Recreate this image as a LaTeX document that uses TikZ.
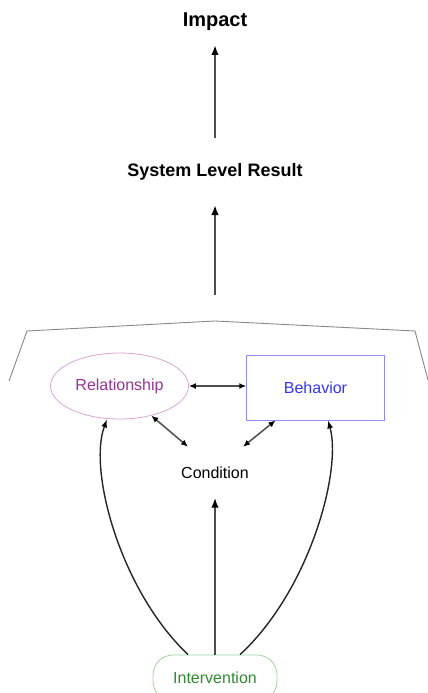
\documentclass[tikz,border=0pt]{standalone}
\usepackage{fontspec}
\setmainfont{Liberation Sans}
\usetikzlibrary{arrows.meta,shapes.geometric}
\definecolor{relborder}{HTML}{D9A3D9}
\definecolor{reltext}{HTML}{993399}
\definecolor{behborder}{HTML}{8C8CFF}
\definecolor{behtext}{HTML}{3333FF}
\definecolor{intborder}{HTML}{A3D1A3}
\definecolor{inttext}{HTML}{2E8B2E}
\definecolor{darkline}{HTML}{4D4D4D}
\definecolor{bracketgray}{HTML}{888888}
\tikzset{
  bigarrow/.style={draw=darkline, line width=2.8pt, -{Latex[length=10pt,width=7.5pt,color=black]}},
  smallarrow/.style={draw=darkline, line width=1.5pt, {Latex[length=7pt,width=6pt,color=black]}-{Latex[length=7pt,width=6pt,color=black]}},
  curvearrow/.style={draw=black!85, line width=1.4pt, -{Latex[length=8pt,width=6pt,color=black]}},
  boldlabel/.style={font=\fontsize{18}{20}\selectfont\bfseries, inner sep=0pt},
  plainlabel/.style={font=\fontsize{16}{18}\selectfont, inner sep=0pt}
}
\begin{document}
\begin{tikzpicture}[x=1pt,y=1pt]
\useasboundingbox (0,-693) rectangle (428,0);
\clip (0,-693) rectangle (428,0);
\node[boldlabel, font=\fontsize{20}{22}\selectfont\bfseries] (imp) at (215,-22) {Impact};
\node[boldlabel] (slr) at (215,-172) {System Level Result};
\coordinate (peak) at (215,-321);
\draw[bracketgray, line width=0.9pt] (9,-381) -- (27,-331) -- (peak) -- (415,-331) -- (428,-380);
\draw[bigarrow] ([yshift=34pt]slr.center) -- ([yshift=-23pt]imp.center);
\draw[bigarrow] ([yshift=26pt]peak) -- ([yshift=-33pt]slr.center);
\node[ellipse, draw=relborder, line width=0.8pt, minimum width=138pt, minimum height=66pt, inner sep=0pt,
      text=reltext, font=\fontsize{16}{18}\selectfont] (rel) at (119.5,-386) {Relationship};
\node[rectangle, draw=behborder, line width=0.8pt, minimum width=137.6pt, minimum height=65pt, inner sep=0pt,
      text=behtext, font=\fontsize{16}{18}\selectfont] (beh) at (315.5,-387.5) {Behavior};
\node[plainlabel] (cond) at (215,-472.7) {Condition};
\node[rectangle, rounded corners=20pt, draw=intborder, line width=0.8pt, minimum width=124pt, minimum height=46pt,
      inner sep=0pt, text=inttext, font=\fontsize{16}{18}\selectfont] (int) at (215,-678) {Intervention};
\draw[smallarrow] (rel.east) -- (rel.east -| beh.west);
\draw[smallarrow] (rel.-43) -- ([shift={(-27pt,26pt)}]cond.center);
\draw[smallarrow] ([xshift=-40pt]beh.south) -- ([shift={(28pt,26pt)}]cond.center);
\draw[bigarrow, line width=2.4pt] (int.north) -- ([yshift=-25pt]cond.center);
\draw[curvearrow] ([xshift=-27pt]int.north) .. controls (120,-590) and (88,-470) .. ([xshift=-12.5pt]rel.south);
\draw[curvearrow] ([xshift=25pt]int.north) .. controls (310,-590) and (342,-470) .. ([xshift=12.5pt]beh.south);
\end{tikzpicture}
\end{document}
